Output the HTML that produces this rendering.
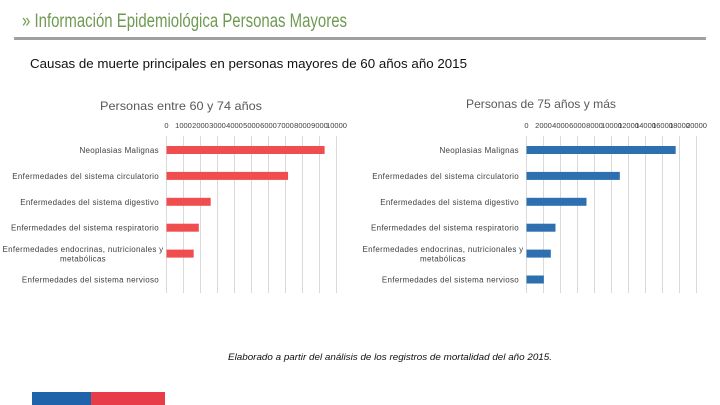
<!DOCTYPE html>
<html><head><meta charset="utf-8"><style>
html,body{margin:0;padding:0;background:#fff;}
svg{display:block;font-family:"Liberation Sans",sans-serif;}
</style></head><body>
<svg id="s" width="720" height="405" viewBox="0 0 720 405">
<text x="22" y="27" font-size="19" fill="#6f9a52" textLength="325" lengthAdjust="spacingAndGlyphs">» Información Epidemiológica Personas Mayores</text>
<rect x="14" y="37" width="692" height="3" fill="#a0a0a0"/>
<text x="30" y="68" font-size="13" fill="#111" textLength="437" lengthAdjust="spacingAndGlyphs">Causas de muerte principales en personas mayores de 60 años año 2015</text>
<text x="100" y="110" font-size="12" fill="#595959" textLength="162" lengthAdjust="spacingAndGlyphs">Personas entre 60 y 74 años</text>
<text x="466" y="108" font-size="12" fill="#595959" textLength="150" lengthAdjust="spacingAndGlyphs">Personas de 75 años y más</text>
<g id="left"></g>
<g id="right"></g>
<text x="228" y="360" font-size="9.5" font-style="italic" fill="#111" textLength="324" lengthAdjust="spacingAndGlyphs">Elaborado a partir del análisis de los registros de mortalidad del año 2015.</text>
<rect x="32" y="392" width="59" height="13" fill="#1f64aa"/>
<rect x="91" y="392" width="74" height="13" fill="#e63d48"/>
</svg>
<script>
const categories=["Neoplasias Malignas","Enfermedades del sistema circulatorio","Enfermedades del sistema digestivo","Enfermedades del sistema respiratorio","Enfermedades endocrinas, nutricionales y|metabólicas","Enfermedades del sistema nervioso"];
const leftValues=[9300,7150,2600,1900,1600,0];
const rightValues=[17550,10980,7060,3410,2860,2040];
const leftTicks=[0,1000,2000,3000,4000,5000,6000,7000,8000,9000,10000];
const rightTicks=[0,2000,4000,6000,8000,10000,12000,14000,16000,18000,20000];
const NS="http://www.w3.org/2000/svg";
function mk(t,a,p){const e=document.createElementNS(NS,t);for(const k in a)e.setAttribute(k,a[k]);p.appendChild(e);return e;}
function draw(g,x0,labelX,values,ticks,color,pre){
  const max=ticks[ticks.length-1];
  const xs=v=>x0+v/max*170;
  const ys=i=>150+i*25.9;
  ticks.forEach(t=>{
    const l=mk('line',{x1:xs(t),x2:xs(t),y1:136,y2:293,stroke:'#d9d9d9','stroke-width':1},g);
    
    
    const tx=mk('text',{x:xs(t),y:128,'font-size':7.5,fill:'#404040','text-anchor':'middle'},g);
    tx.textContent=t;
    
    
  });
  values.forEach((v,i)=>{
    const r=mk('rect',{x:xs(0),y:ys(i)-4,width:xs(v)-xs(0),height:8,fill:color},g);
    
    
    const lines=categories[i].split('|');
    lines.forEach((ln,j)=>{
      const tx=mk('text',{x:labelX,y:ys(i)+3+(j-(lines.length-1)/2)*9.5,'font-size':8,'letter-spacing':0.3,fill:'#404040','text-anchor':lines.length>1?'middle':'end'},g);
      if(lines.length>1)tx.setAttribute('x',labelX-76);
      tx.textContent=ln;
      
      
    });
  });
}
draw(document.getElementById('left'),166.5,159,leftValues,leftTicks,'#f04e4e','left');
draw(document.getElementById('right'),526.5,519,rightValues,rightTicks,'#2e6fb0','right');
</script>
</body></html>
